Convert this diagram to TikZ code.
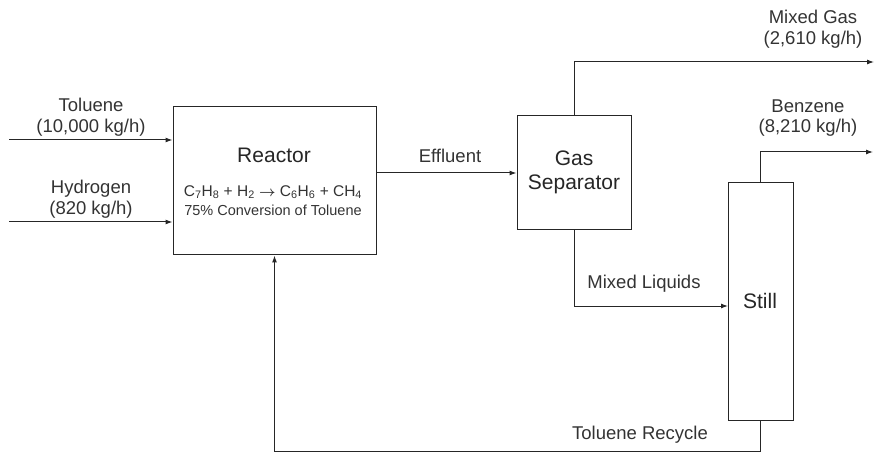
\documentclass[tikz,border=0pt]{standalone}
\usepackage{fontspec}
\setmainfont{Liberation Sans}
\usetikzlibrary{arrows.meta}

\begin{document}
\begin{tikzpicture}[x=1pt, y=-1pt,
    unit/.style={rectangle, draw=black!85, line width=1pt, inner sep=0pt},
    stream/.style={-{Latex[length=7pt,width=5pt]}, line width=1pt, draw=black!85},
    lbl/.style={font=\fontsize{18.5}{20.5}\selectfont, text=black!80, align=center, inner sep=0pt},
    big/.style={font=\fontsize{21}{24}\selectfont, text=black!85, align=center, inner sep=0pt},
]
\useasboundingbox (0,0) rectangle (875,454);

% units
\node[unit, minimum width=203pt, minimum height=148pt] (reactor) at (274.5,181) {};
\node[unit, minimum width=114pt, minimum height=114pt] (separator) at (574,173) {};
\node[unit, minimum width=65pt, minimum height=237pt] (still) at (760.5,301.5) {};

% free ends
\coordinate (tolin) at (9,140);
\coordinate (h2in) at (9,222);
\coordinate (gasout) at (874,62);
\coordinate (bzout) at (873,152);
\coordinate (liqin) at (728,306);

% streams
\draw[stream] (tolin) -- (tolin -| reactor.west);
\draw[stream] (h2in) -- (h2in -| reactor.west);
\draw[stream] (reactor.east |- separator.west) -- (separator.west);
\draw[stream] (separator.north) |- (gasout);
\draw[stream] (separator.south) |- (liqin);
\draw[stream] (still.north) |- (bzout);
\draw[stream] (still.south) -- ++(0,31) -| (reactor.south);

% labels
\node[lbl] (toluene) at (91,117) {Toluene\\(10,000 kg/h)};
\node[lbl] (hydrogen) at (91,199) {Hydrogen\\(820 kg/h)};
\node[big] (reactorlbl) at (274,155) {Reactor};
\node[lbl, font=\fontsize{15.5}{18}\selectfont] (rxn) at (273,192)
    {C\textsubscript{7}H\textsubscript{8} + H\textsubscript{2} {\boldmath$\rightarrow$} C\textsubscript{6}H\textsubscript{6} + CH\textsubscript{4}};
\node[lbl, font=\fontsize{14.5}{17}\selectfont] (conv) at (273,210) {75\% Conversion of Toluene};
\node[lbl] (effluent) at (450,156) {Effluent};
\node[big] (seplbl) at (574,172) {Gas\\Separator};
\node[lbl] (mixgas) at (813,29) {Mixed Gas\\(2,610 kg/h)};
\node[lbl] (benzene) at (808,118) {Benzene\\(8,210 kg/h)};
\node[lbl] (liquids) at (644,284) {Mixed Liquids};
\node[big] (stilllbl) at (760,301) {Still};
\node[lbl] (recycle) at (640,435) {Toluene Recycle};

\end{tikzpicture}
\end{document}
